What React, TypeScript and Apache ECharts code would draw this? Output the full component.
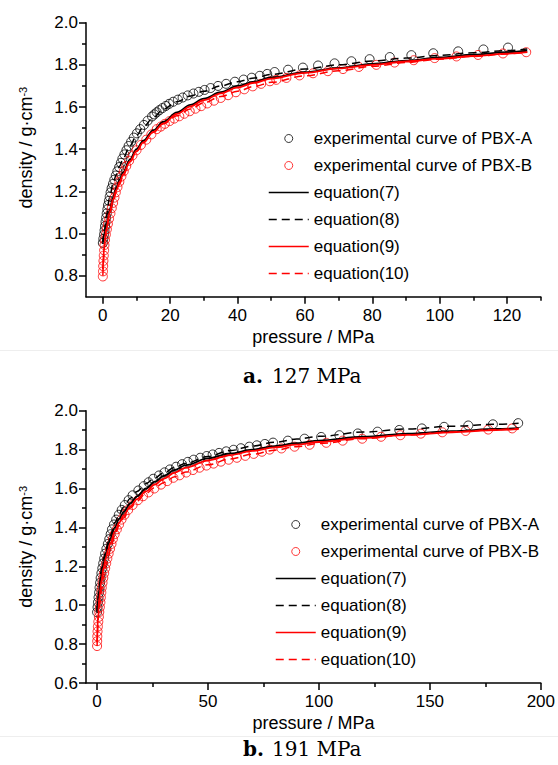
import React, { useEffect, useRef } from 'react';
import * as echarts from 'echarts';

const FONT = '"Liberation Sans", Arial, sans-serif';
const SERIF = '"DejaVu Serif", serif';

const NAMES = [
  'experimental curve of PBX-A',
  'experimental curve of PBX-B',
  'equation(7)',
  'equation(8)',
  'equation(9)',
  'equation(10)',
];

// ---- chart a (127 MPa) ----
const topXTicks = [0, 20, 40, 60, 80, 100, 120];
const topXMinor = [10, 30, 50, 70, 90, 110, 130];
const topYTicks = [0.8, 1.0, 1.2, 1.4, 1.6, 1.8, 2.0];
const topYMinor = [0.9, 1.1, 1.3, 1.5, 1.7, 1.9];

const topA: number[][] = [
  [0, 0.955], [0.15, 0.975], [0.35, 0.995], [0.5, 1.015], [0.65, 1.035], [0.8, 1.055], [0.97, 1.075],
  [1.15, 1.095], [1.35, 1.115], [1.55, 1.135], [1.8, 1.155], [2.05, 1.175], [2.3, 1.195], [2.6, 1.215],
  [3.0, 1.235], [3.4, 1.255], [3.85, 1.275], [4.3, 1.295], [4.85, 1.315], [5.35, 1.335], [5.8, 1.355],
  [6.4, 1.375], [7.0, 1.395], [7.65, 1.415], [8.4, 1.435], [9.2, 1.455], [10.1, 1.475], [11.1, 1.495],
  [12.2, 1.515], [13.3, 1.535], [14.6, 1.555], [15.3, 1.565], [16.0, 1.575], [16.8, 1.585], [17.7, 1.595],
  [18.7, 1.605], [19.7, 1.615], [20.9, 1.625], [22.3, 1.635], [23.7, 1.645], [25.2, 1.655], [26.9, 1.664],
  [28.5, 1.672], [30.2, 1.681], [32.0, 1.69], [34.2, 1.7], [36.6, 1.71], [39.2, 1.72], [41.8, 1.73],
  [44.2, 1.739], [46.6, 1.748], [48.8, 1.757], [51.0, 1.766], [55.0, 1.777], [59.4, 1.787], [63.9, 1.797],
  [68.8, 1.807], [73.8, 1.817], [79.2, 1.827], [85.2, 1.837], [91.6, 1.846], [98.1, 1.855], [105.5, 1.864],
  [113.0, 1.873], [120.3, 1.882],
];

const topB: number[][] = [
  [0, 0.796], [0.05, 0.82], [0.1, 0.845], [0.18, 0.87], [0.28, 0.895], [0.38, 0.92], [0.48, 0.945],
  [0.65, 0.97], [0.9, 0.995], [1.2, 1.02], [1.5, 1.045], [1.85, 1.07], [2.25, 1.095], [2.65, 1.12],
  [3.05, 1.145], [3.45, 1.17], [3.85, 1.195], [4.35, 1.22], [4.9, 1.245], [5.5, 1.27], [6.2, 1.295],
  [6.95, 1.32], [7.8, 1.345], [8.8, 1.37], [10.0, 1.395], [11.3, 1.42], [12.9, 1.445], [14.4, 1.47],
  [16.0, 1.495], [17.2, 1.507], [18.4, 1.52], [19.8, 1.533], [21.2, 1.545], [22.7, 1.556], [24.2, 1.568],
  [25.8, 1.58], [27.5, 1.592], [29.2, 1.604], [31.0, 1.617], [33.0, 1.63], [35.0, 1.643], [37.2, 1.656],
  [39.5, 1.67], [42.0, 1.684], [44.5, 1.698], [47.0, 1.71], [49.6, 1.722], [51.5, 1.729], [54.5, 1.738],
  [58.4, 1.75], [62.4, 1.76], [66.8, 1.77], [71.3, 1.78], [76.0, 1.79], [81.2, 1.8], [86.6, 1.811],
  [92.3, 1.822], [98.5, 1.832], [105.0, 1.84], [111.4, 1.847], [118.8, 1.854], [125.7, 1.86],
];

const topEq7: number[][] = [
  [0, 0.96], [0.5, 1.0], [1, 1.04], [2, 1.11], [3, 1.17], [4, 1.215], [5, 1.255], [6, 1.29], [8, 1.35],
  [10, 1.4], [12, 1.44], [15, 1.49], [18, 1.53], [22, 1.575], [26, 1.61], [30, 1.64], [35, 1.67],
  [40, 1.7], [45, 1.72], [50, 1.74], [60, 1.765], [70, 1.785], [80, 1.805], [90, 1.82], [100, 1.835],
  [110, 1.848], [120, 1.86], [126, 1.867],
];
const topEq8: number[][] = [
  [0, 0.95], [0.5, 1.02], [1, 1.08], [2, 1.17], [3, 1.235], [4, 1.28], [5, 1.32], [6, 1.355], [8, 1.415],
  [10, 1.465], [12, 1.505], [15, 1.55], [18, 1.59], [22, 1.625], [26, 1.652], [30, 1.675], [35, 1.7],
  [40, 1.72], [45, 1.738], [50, 1.755], [60, 1.78], [70, 1.8], [80, 1.818], [90, 1.832], [100, 1.845],
  [110, 1.857], [120, 1.868], [126, 1.875],
];
const topEq9: number[][] = [
  [0, 0.83], [0.5, 0.95], [1, 1.02], [2, 1.1], [3, 1.16], [4, 1.205], [5, 1.245], [6, 1.28], [8, 1.34],
  [10, 1.39], [12, 1.432], [15, 1.482], [18, 1.522], [22, 1.567], [26, 1.603], [30, 1.633], [35, 1.665],
  [40, 1.693], [45, 1.715], [50, 1.735], [60, 1.762], [70, 1.783], [80, 1.8], [90, 1.816], [100, 1.83],
  [110, 1.842], [120, 1.853], [126, 1.86],
];
const topEq10: number[][] = [
  [0, 0.8], [0.3, 0.89], [0.6, 0.96], [1, 1.01], [2, 1.09], [3, 1.15], [4, 1.195], [5, 1.235], [6, 1.275],
  [8, 1.34], [10, 1.39], [12, 1.43], [15, 1.48], [18, 1.52], [22, 1.558], [26, 1.59], [30, 1.62],
  [35, 1.65], [40, 1.675], [45, 1.698], [50, 1.717], [60, 1.748], [70, 1.772], [80, 1.793], [90, 1.811],
  [100, 1.827], [110, 1.84], [120, 1.852], [126, 1.86],
];

// ---- chart b (191 MPa) ----
const botXTicks = [0, 50, 100, 150, 200];
const botXMinor = [25, 75, 125, 175];
const botYTicks = [0.6, 0.8, 1.0, 1.2, 1.4, 1.6, 1.8, 2.0];
const botYMinor = [0.7, 0.9, 1.1, 1.3, 1.5, 1.7, 1.9];

const botA: number[][] = [
  [0, 0.964], [0.2, 0.99], [0.4, 1.015], [0.65, 1.04], [0.9, 1.065], [1.1, 1.09], [1.35, 1.115],
  [1.6, 1.14], [1.95, 1.165], [2.35, 1.19], [2.75, 1.215], [3.2, 1.24], [3.6, 1.265], [4.2, 1.29],
  [4.85, 1.315], [5.5, 1.34], [6.1, 1.365], [6.7, 1.39], [7.6, 1.415], [8.6, 1.44], [9.8, 1.465],
  [11.1, 1.49], [12.5, 1.515], [14.2, 1.54], [16.0, 1.565], [18.6, 1.59], [21.0, 1.612], [23.2, 1.632],
  [25.3, 1.65], [27.9, 1.667], [30.4, 1.683], [32.8, 1.698], [35.6, 1.712], [38.3, 1.725], [40.9, 1.737],
  [43.5, 1.748], [46.5, 1.758], [49.4, 1.767], [52.1, 1.775], [55.0, 1.783], [58.2, 1.791], [61.5, 1.799],
  [64.8, 1.807], [68.6, 1.815], [72.0, 1.822], [75.6, 1.829], [79.3, 1.836], [86.0, 1.846], [93.5, 1.856],
  [101.0, 1.865], [109.2, 1.874], [117.5, 1.883], [126.4, 1.892], [136.2, 1.901], [146.4, 1.909],
  [156.4, 1.917], [167.3, 1.924], [178.4, 1.93], [189.8, 1.936],
];

const botB: number[][] = [
  [0, 0.79], [0.05, 0.815], [0.1, 0.84], [0.2, 0.865], [0.35, 0.89], [0.55, 0.915], [0.8, 0.94],
  [1.0, 0.965], [1.25, 0.99], [1.5, 1.015], [1.7, 1.04], [1.9, 1.065], [2.1, 1.09], [2.45, 1.115],
  [2.8, 1.14], [3.2, 1.165], [3.65, 1.19], [4.1, 1.215], [4.6, 1.24], [5.2, 1.265], [5.85, 1.29],
  [6.5, 1.315], [7.1, 1.34], [7.9, 1.365], [8.9, 1.39], [9.9, 1.415], [11.0, 1.44], [12.4, 1.465],
  [14.0, 1.49], [16.0, 1.515], [18.4, 1.54], [20.7, 1.56], [23.2, 1.58], [25.8, 1.6], [28.8, 1.62],
  [31.6, 1.638], [34.4, 1.655], [37.2, 1.668], [40.2, 1.682], [43.2, 1.695], [46.2, 1.707], [49.3, 1.718],
  [52.5, 1.728], [55.8, 1.738], [59.3, 1.748], [63.0, 1.758], [66.8, 1.768], [70.6, 1.778], [74.3, 1.789],
  [77.8, 1.8], [83.1, 1.806], [89.0, 1.815], [95.8, 1.825], [103.3, 1.835], [110.7, 1.846], [119.5, 1.856],
  [128.0, 1.866], [136.7, 1.874], [145.9, 1.882], [155.6, 1.889], [166.1, 1.896], [176.3, 1.903],
  [187.1, 1.909],
];

const botEq7: number[][] = [
  [0, 0.97], [0.5, 1.03], [1, 1.08], [2, 1.16], [3, 1.22], [4, 1.27], [5, 1.31], [6, 1.345], [8, 1.4],
  [10, 1.445], [12, 1.48], [15, 1.525], [18, 1.56], [22, 1.6], [26, 1.635], [30, 1.665], [35, 1.695],
  [40, 1.72], [50, 1.755], [60, 1.78], [70, 1.8], [80, 1.818], [90, 1.833], [100, 1.846], [120, 1.866],
  [140, 1.882], [160, 1.895], [180, 1.906], [190, 1.91],
];
const botEq8: number[][] = [
  [0, 0.96], [0.5, 1.04], [1, 1.1], [2, 1.19], [3, 1.245], [4, 1.29], [5, 1.325], [6, 1.36], [8, 1.425],
  [10, 1.47], [12, 1.505], [15, 1.55], [18, 1.585], [22, 1.625], [26, 1.655], [30, 1.68], [35, 1.708],
  [40, 1.73], [50, 1.765], [60, 1.795], [70, 1.818], [80, 1.838], [90, 1.854], [100, 1.868], [120, 1.89],
  [140, 1.906], [160, 1.92], [180, 1.93], [190, 1.935],
];
const botEq9: number[][] = [
  [0, 0.81], [0.5, 0.96], [1, 1.04], [2, 1.13], [3, 1.195], [4, 1.245], [5, 1.285], [6, 1.32], [8, 1.38],
  [10, 1.425], [12, 1.462], [15, 1.508], [18, 1.545], [22, 1.585], [26, 1.62], [30, 1.65], [35, 1.682],
  [40, 1.707], [50, 1.745], [60, 1.772], [70, 1.793], [80, 1.811], [90, 1.826], [100, 1.839], [120, 1.86],
  [140, 1.876], [160, 1.889], [180, 1.9], [190, 1.905],
];
const botEq10: number[][] = [
  [0, 0.79], [0.3, 0.88], [0.6, 0.94], [1, 0.99], [2, 1.08], [3, 1.15], [4, 1.205], [5, 1.25], [6, 1.29],
  [8, 1.36], [10, 1.41], [12, 1.45], [15, 1.5], [18, 1.535], [22, 1.575], [26, 1.605], [30, 1.63],
  [35, 1.66], [40, 1.685], [50, 1.722], [60, 1.752], [70, 1.776], [80, 1.797], [90, 1.815], [100, 1.831],
  [120, 1.856], [140, 1.876], [160, 1.891], [180, 1.903], [190, 1.909],
];

const BLACK = '#000000';
const RED = '#ff0000';
const CLEAR = 'rgba(255,255,255,0)';

function scatterSeries(name: string, data: number[][], color: string, axis: number) {
  return {
    type: 'scatter',
    name,
    data,
    xAxisIndex: axis,
    yAxisIndex: axis,
    symbol: 'circle',
    symbolSize: 9,
    itemStyle: { color: CLEAR, borderColor: color, borderWidth: 1 },
    z: 2,
  };
}

function lineSeries(name: string, data: number[][], color: string, dashed: boolean, axis: number) {
  return {
    type: 'line',
    name,
    data,
    xAxisIndex: axis,
    yAxisIndex: axis,
    symbol: 'none',
    showSymbol: false,
    smooth: 0.35,
    smoothMonotone: 'x',
    lineStyle: { color, width: dashed ? 1.5 : 1.8, type: dashed ? [8, 5] : 'solid' },
    itemStyle: { color },
    z: 3,
  };
}

function mainX(grid: number, min: number, max: number, ticks: number[]) {
  return {
    type: 'value',
    gridIndex: grid,
    min,
    max,
    name: 'pressure / MPa',
    nameLocation: 'middle',
    nameGap: 31,
    nameTextStyle: { fontSize: 18, color: BLACK, fontFamily: FONT },
    axisLine: { show: true, onZero: false, lineStyle: { color: BLACK, width: 1.5 } },
    axisTick: { show: true, inside: false, length: 7, lineStyle: { color: BLACK, width: 1.5 }, customValues: ticks },
    axisLabel: { show: true, margin: 10, fontSize: 17, color: BLACK, fontFamily: FONT, customValues: ticks, formatter: (v: number) => String(v) },
    splitLine: { show: false },
  };
}
function minorX(grid: number, min: number, max: number, ticks: number[]) {
  return {
    type: 'value',
    gridIndex: grid,
    min,
    max,
    position: 'bottom',
    axisLine: { show: false, onZero: false },
    axisTick: { show: true, inside: false, length: 4, lineStyle: { color: BLACK, width: 1.5 }, customValues: ticks },
    axisLabel: { show: false },
    splitLine: { show: false },
  };
}
function mainY(grid: number, min: number, max: number, ticks: number[], namePad: number[]) {
  return {
    type: 'value',
    gridIndex: grid,
    min,
    max,
    name: '{a|density / g·cm}{b|-3}',
    nameLocation: 'middle',
    nameGap: 51,
    nameTextStyle: {
      fontSize: 18,
      color: BLACK,
      fontFamily: FONT,
      padding: namePad,
      rich: {
        a: { fontSize: 18, color: BLACK, fontFamily: FONT },
        b: { fontSize: 11, color: BLACK, fontFamily: FONT, verticalAlign: 'top' },
      },
    },
    axisLine: { show: true, onZero: false, lineStyle: { color: BLACK, width: 1.5 } },
    axisTick: { show: true, inside: false, length: 7, lineStyle: { color: BLACK, width: 1.5 }, customValues: ticks },
    axisLabel: { show: true, margin: 8, fontSize: 17, color: BLACK, fontFamily: FONT, customValues: ticks, formatter: (v: number) => v.toFixed(1) },
    splitLine: { show: false },
  };
}
function minorY(grid: number, min: number, max: number, ticks: number[]) {
  return {
    type: 'value',
    gridIndex: grid,
    min,
    max,
    position: 'left',
    axisLine: { show: false, onZero: false },
    axisTick: { show: true, inside: false, length: 4, lineStyle: { color: BLACK, width: 1.5 }, customValues: ticks },
    axisLabel: { show: false },
    splitLine: { show: false },
  };
}

function legendData() {
  const noSymbol = { color: CLEAR, borderColor: CLEAR, borderWidth: 0, opacity: 0 };
  return [
    { name: NAMES[0], itemStyle: { color: CLEAR, borderColor: BLACK, borderWidth: 1 } },
    { name: NAMES[1], itemStyle: { color: CLEAR, borderColor: RED, borderWidth: 1 } },
    { name: NAMES[2], itemStyle: noSymbol },
    { name: NAMES[3], itemStyle: noSymbol },
    { name: NAMES[4], itemStyle: noSymbol },
    { name: NAMES[5], itemStyle: noSymbol },
  ];
}

function legend(left: number, top: number) {
  return {
    orient: 'vertical',
    left,
    top,
    padding: 0,
    itemGap: 10,
    itemWidth: 40,
    itemHeight: 8,
    selectedMode: false,
    lineStyle: { width: 1.5 },
    textStyle: { fontSize: 17, color: BLACK, fontFamily: FONT },
    data: legendData(),
  };
}

export default function App() {
  const ref = useRef<HTMLDivElement>(null);

  useEffect(() => {
    if (!ref.current) return;
    const chart = echarts.init(ref.current, undefined, { renderer: 'svg' });
    const option: any = {
      animation: false,
      backgroundColor: '#ffffff',
      textStyle: { fontFamily: FONT },
      grid: [
        { left: 86, top: 22.7, width: 454.7, height: 274 },
        { left: 86, top: 410.7, width: 456, height: 272.3 },
      ],
      xAxis: [
        mainX(0, -5, 130, topXTicks),
        minorX(0, -5, 130, topXMinor),
        mainX(1, -5, 200, botXTicks),
        minorX(1, -5, 200, botXMinor),
      ],
      yAxis: [
        mainY(0, 0.7, 2.0, topYTicks, [0, 0, 0, 24]),
        minorY(0, 0.7, 2.0, topYMinor),
        mainY(1, 0.6, 2.0, botYTicks, [0, 0, 0, 0]),
        minorY(1, 0.6, 2.0, botYMinor),
      ],
      legend: [legend(268, 130), legend(275, 516)],
      series: [
        scatterSeries(NAMES[0], topA, BLACK, 0),
        scatterSeries(NAMES[1], topB, RED, 0),
        lineSeries(NAMES[2], topEq7, BLACK, false, 0),
        lineSeries(NAMES[3], topEq8, BLACK, true, 0),
        lineSeries(NAMES[4], topEq9, RED, false, 0),
        lineSeries(NAMES[5], topEq10, RED, true, 0),
        scatterSeries(NAMES[0], botA, BLACK, 2),
        scatterSeries(NAMES[1], botB, RED, 2),
        lineSeries(NAMES[2], botEq7, BLACK, false, 2),
        lineSeries(NAMES[3], botEq8, BLACK, true, 2),
        lineSeries(NAMES[4], botEq9, RED, false, 2),
        lineSeries(NAMES[5], botEq10, RED, true, 2),
      ],
      graphic: [
        { type: 'line', shape: { x1: 0, y1: 350.5, x2: 558, y2: 350.5 }, style: { stroke: '#eeeeee', lineWidth: 1 } },
        { type: 'line', shape: { x1: 0, y1: 736.5, x2: 558, y2: 736.5 }, style: { stroke: '#eeeeee', lineWidth: 1 } },
        { type: 'text', x: 243, y: 376, style: { text: 'a.', fontSize: 20, fontWeight: 'bold', fontFamily: SERIF, fill: BLACK, verticalAlign: 'middle' } },
        { type: 'text', x: 272, y: 376, style: { text: '127 MPa', fontSize: 20, fontFamily: SERIF, fill: BLACK, verticalAlign: 'middle' } },
        { type: 'text', x: 243, y: 749, style: { text: 'b.', fontSize: 20, fontWeight: 'bold', fontFamily: SERIF, fill: BLACK, verticalAlign: 'middle' } },
        { type: 'text', x: 272, y: 749, style: { text: '191 MPa', fontSize: 20, fontFamily: SERIF, fill: BLACK, verticalAlign: 'middle' } },
      ],
    };
    chart.setOption(option);
    return () => chart.dispose();
  }, []);

  return (
    <div
      ref={ref}
      style={{ position: 'absolute', left: 0, top: 0, width: 558, height: 765, background: '#fff' }}
    />
  );
}
